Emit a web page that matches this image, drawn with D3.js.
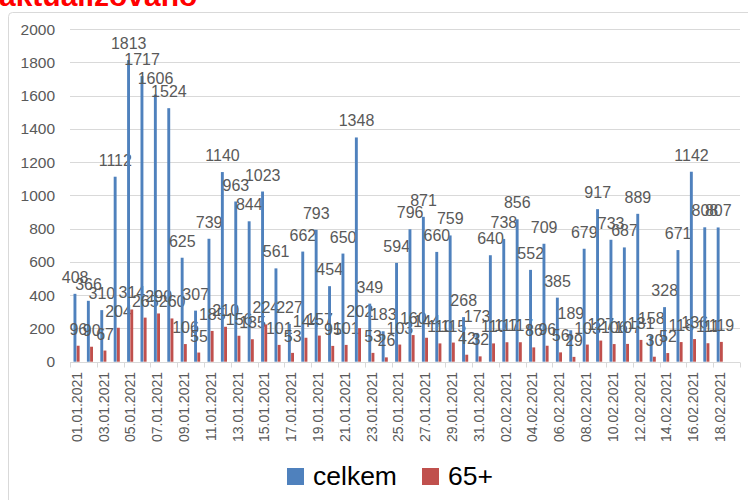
<!DOCTYPE html>
<html lang="cs">
<head>
<meta charset="UTF-8">
<title>celkem / 65+</title>
<script src="https://d3js.org/d3.v7.min.js"></script>
<style>
  body { margin: 0; background: #fff; overflow: hidden; }
  svg { display: block; font-family: "Liberation Sans", Arial, sans-serif; }
  .grid line { stroke: #d9d9d9; stroke-width: 1; }
  .ylab, .xlab, .dlab { fill: #595959; }
</style>
</head>
<body>
<div id="chart"></div>
<script>
// dates 01.01.2021 – 19.02.2021 (last day has no data yet)
const days = [
  "01.01.2021","02.01.2021","03.01.2021","04.01.2021","05.01.2021","06.01.2021","07.01.2021","08.01.2021","09.01.2021","10.01.2021",
  "11.01.2021","12.01.2021","13.01.2021","14.01.2021","15.01.2021","16.01.2021","17.01.2021","18.01.2021","19.01.2021","20.01.2021",
  "21.01.2021","22.01.2021","23.01.2021","24.01.2021","25.01.2021","26.01.2021","27.01.2021","28.01.2021","29.01.2021","30.01.2021",
  "31.01.2021","01.02.2021","02.02.2021","03.02.2021","04.02.2021","05.02.2021","06.02.2021","07.02.2021","08.02.2021","09.02.2021",
  "10.02.2021","11.02.2021","12.02.2021","13.02.2021","14.02.2021","15.02.2021","16.02.2021","17.02.2021","18.02.2021","19.02.2021"
];
const celkem = [
  408,366,310,1112,1813,1717,1606,1524,625,307,
  739,1140,963,844,1023,561,227,662,793,454,
  650,1348,349,183,594,796,871,660,759,268,
  173,640,738,856,552,709,385,189,679,917,
  733,687,889,158,328,671,1142,808,807,null
];
const senior = [
  96,90,67,204,314,265,290,260,106,55,
  185,210,156,135,224,101,53,144,157,95,
  101,202,53,26,103,160,144,110,115,42,
  32,110,117,117,86,96,56,29,103,127,
  106,107,131,30,52,118,136,111,119,null
];
const seriesNames = ["celkem", "65+"];
const seriesColors = ["#4f81bd", "#c0504d"];
const yTicks = [0,200,400,600,800,1000,1200,1400,1600,1800,2000];

const W = 748, H = 500;
const svg = d3.select("#chart").append("svg").attr("width", W).attr("height", H);

// cut-off heading above the chart
svg.append("text")
  .attr("x", -1).attr("y", 6)
  .attr("font-size", 30).attr("font-weight", "bold")
  .attr("fill", "#ff0000")
  .text("aktualizováno");

// chart frame
svg.append("rect")
  .attr("x", 8.5).attr("y", 12.5).attr("width", 800).attr("height", 560)
  .attr("rx", 4)
  .attr("fill", "none").attr("stroke", "#d9d9d9");

const x = d3.scaleBand().domain(days).range([70, 740]);
const y = d3.scaleLinear().domain([0, 2000]).range([361.7, 29]);
const sub = d3.scaleBand().domain(seriesNames).range([-3.2, 3.2]);

// gridlines
svg.append("g").attr("class", "grid")
  .selectAll("line").data(yTicks.slice(1)).join("line")
  .attr("x1", 70).attr("x2", 740)
  .attr("y1", d => Math.round(y(d)) + 0.5).attr("y2", d => Math.round(y(d)) + 0.5);

// y labels
svg.append("g").selectAll("text").data(yTicks).join("text")
  .attr("class", "ylab")
  .attr("x", 55).attr("y", d => y(d))
  .attr("dy", "0.36em")
  .attr("text-anchor", "end")
  .attr("font-size", 15.5)
  .text(d => d);

// bars
const data = days.map((d, i) => ({ day: d, vals: [celkem[i], senior[i]] }));
const groups = svg.append("g").selectAll("g").data(data).join("g")
  .attr("transform", d => `translate(${x(d.day) + x.bandwidth() / 2},0)`);

groups.selectAll("rect")
  .data(d => d.vals.map((v, k) => ({ v, k })).filter(e => e.v != null))
  .join("rect")
  .attr("x", e => sub(seriesNames[e.k]))
  .attr("width", sub.bandwidth() - 0.3)
  .attr("y", e => y(e.v))
  .attr("height", e => y(0) - y(e.v))
  .attr("fill", e => seriesColors[e.k]);

groups.selectAll("text")
  .data(d => d.vals.map((v, k) => ({ v, k })).filter(e => e.v != null))
  .join("text")
  .attr("class", "dlab")
  .attr("x", e => sub(seriesNames[e.k]) + sub.bandwidth() / 2)
  .attr("y", e => y(e.v) - 11)
  .attr("text-anchor", "middle")
  .attr("font-size", 16)
  .text(e => e.v);

// x axis
const axisY = Math.round(y(0)) + 0.5;
svg.append("line")
  .attr("x1", 70).attr("x2", 740).attr("y1", axisY).attr("y2", axisY)
  .attr("stroke", "#d9d9d9");
const tickPos = d3.range(0, days.length + 1, 2).map(i => 70 + i * x.step());
svg.append("g").selectAll("line").data(tickPos).join("line")
  .attr("x1", d => Math.round(d) + 0.5).attr("x2", d => Math.round(d) + 0.5)
  .attr("y1", axisY).attr("y2", axisY + 5)
  .attr("stroke", "#d9d9d9");

svg.append("g").selectAll("text")
  .data(days.filter((d, i) => i % 2 === 0))
  .join("text")
  .attr("class", "xlab")
  .attr("transform", d => `translate(${x(d) + x.bandwidth() / 2},372) rotate(-90)`)
  .attr("dy", "0.36em")
  .attr("text-anchor", "end")
  .attr("font-size", 14)
  .text(d => d);

// legend
const legendItems = [
  { name: seriesNames[0], color: seriesColors[0], x: 287 },
  { name: seriesNames[1], color: seriesColors[1], x: 422 }
];
const lg = svg.append("g").selectAll("g").data(legendItems).join("g")
  .attr("transform", d => `translate(${d.x},468)`);
lg.append("rect").attr("width", 17).attr("height", 17).attr("fill", d => d.color);
lg.append("text")
  .attr("x", 26).attr("y", 17)
  .attr("font-size", 26.5)
  .attr("fill", "#000")
  .text(d => d.name);
</script>
</body>
</html>
